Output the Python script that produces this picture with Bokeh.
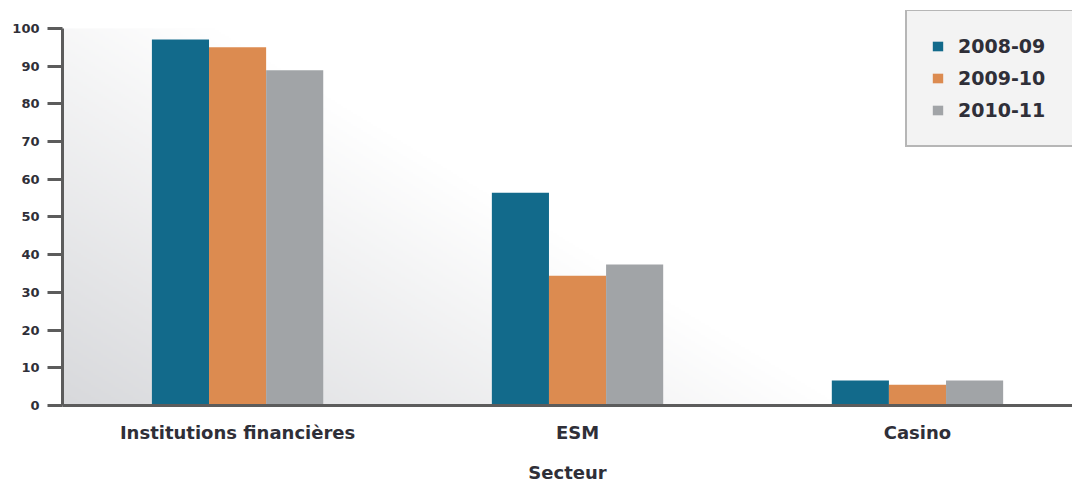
import numpy as np
from bokeh.plotting import figure
from bokeh.models import (ColumnDataSource, Range1d, FixedTicker, Legend, LegendItem)
from bokeh.transform import dodge
from bokeh.embed import file_html
from bokeh.resources import INLINE

# ---- data ----
secteurs = ["Institutions financières", "ESM", "Casino"]
series_names = ["2008-09", "2009-10", "2010-11"]
v_2008_09 = [97.1, 56.4, 6.6]
v_2009_10 = [95.0, 34.4, 5.5]
v_2010_11 = [88.9, 37.4, 6.6]
colors = ["#126a8b", "#dc8b50", "#a1a4a7"]
y_ticks = list(range(0, 101, 10))
x_title = "Secteur"

idx = list(range(len(secteurs)))
source = ColumnDataSource(dict(x=idx, a=v_2008_09, b=v_2009_10, c=v_2010_11))

FONT = "DejaVu Sans"
TXT = "#2f2f38"
XMIN, XMAX = -0.515, 2.456
YTOP = 104.77
p = figure(width=1072, height=485, output_backend="svg", toolbar_location=None,
           x_range=Range1d(XMIN, XMAX), y_range=Range1d(0, YTOP),
           min_border_left=62, min_border_right=0, min_border_top=10, min_border_bottom=79)
p.outline_line_color = None
p.xgrid.grid_line_color = None
p.ygrid.grid_line_color = None
p.background_fill_color = "white"
p.border_fill_color = "white"

# background gradient (grey bottom-left fading to white top-right)
W, H = 505, 189
xs = np.linspace(0, 1010, W)[None, :]
ys = np.linspace(0, 378, H)[:, None]  # row 0 = bottom
t = np.clip(xs * 0.00129 + ys * 0.00213, 0, 1)
r = (216 + 39 * t).astype(np.uint32)
g = (217 + 38 * t).astype(np.uint32)
b = (220 + 35 * t).astype(np.uint32)
img = (255 << 24) | (b << 16) | (g << 8) | r
p.image_rgba(image=[img.astype(np.uint32)], x=XMIN, y=0, dw=XMAX - XMIN, dh=100)

bw = 0.168
offs = [-bw, 0.0, bw]
fields = ["a", "b", "c"]
renderers = []
for f, o, c in zip(fields, offs, colors):
    rr = p.vbar(x=dodge("x", o, range=p.x_range), top=f, width=bw, source=source,
                fill_color=c, line_color=None)
    renderers.append(rr)

# axes
xa = p.xaxis[0]
xa.ticker = FixedTicker(ticks=idx)
xa.major_label_overrides = {i: s for i, s in zip(idx, secteurs)}
xa.major_tick_line_color = None
xa.minor_tick_line_color = None
xa.major_tick_out = 0
xa.major_tick_in = 0
xa.axis_line_color = "#5c5c5c"
xa.axis_line_width = 3
xa.major_label_text_font = FONT
xa.major_label_text_font_style = "bold"
xa.major_label_text_font_size = "18px"
xa.major_label_text_color = TXT
xa.major_label_standoff = 16
xa.axis_label = x_title
xa.axis_label_text_font = FONT
xa.axis_label_text_font_style = "bold"
xa.axis_label_text_font_size = "18px"
xa.axis_label_text_color = TXT
xa.axis_label_standoff = 16

ya = p.yaxis[0]
ya.ticker = FixedTicker(ticks=y_ticks)
ya.bounds = (0, 100)
ya.axis_line_color = "#5c5c5c"
ya.axis_line_width = 3
ya.major_tick_line_color = "#5c5c5c"
ya.major_tick_line_width = 3
ya.major_tick_out = 15
ya.major_tick_in = 0
ya.minor_tick_line_color = None
ya.major_label_text_font = FONT
ya.major_label_text_font_style = "bold"
ya.major_label_text_font_size = "13px"
ya.major_label_text_color = TXT
ya.major_label_standoff = 8

legend = Legend(items=[LegendItem(label=n, renderers=[r_]) for n, r_ in zip(series_names, renderers)],
                location=(843, 258))
legend.label_text_font = FONT
legend.label_text_font_style = "bold"
legend.label_text_font_size = "19px"
legend.label_text_color = TXT
legend.glyph_width = 13
legend.glyph_height = 12
legend.label_height = 20
legend.label_width = 120
legend.label_standoff = 14
legend.spacing = 10
legend.padding = 24
legend.margin = 0
legend.border_line_color = "#7a7a7a"
legend.border_line_width = 2
legend.background_fill_color = "#f3f3f3"
legend.background_fill_alpha = 1.0
p.add_layout(legend)

open("out.html", "w").write(file_html(p, INLINE))
